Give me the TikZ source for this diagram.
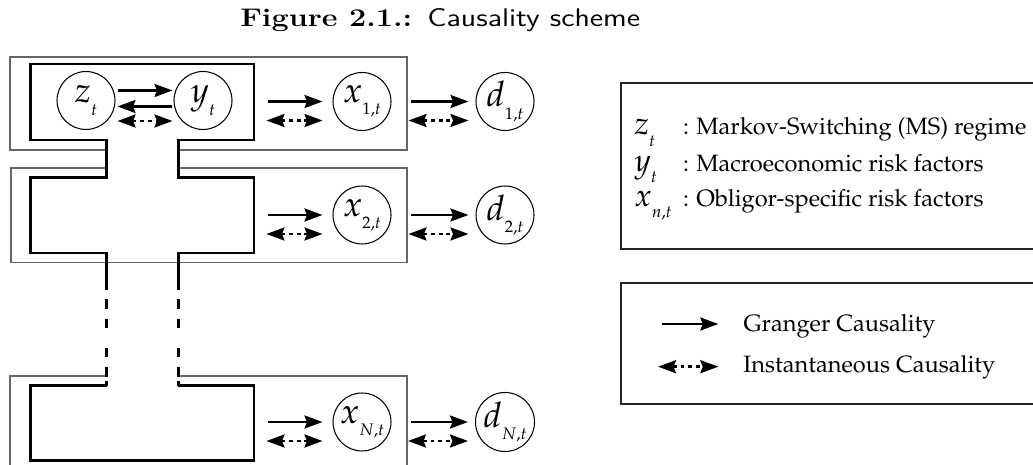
\documentclass[tikz,border=0pt]{standalone}
\usepackage[T1]{fontenc}
\usepackage{mathpazo}
\usepackage{graphicx}
\usepackage{tikz}
\usetikzlibrary{arrows.meta,calc}

% variable with a lowered index
\newcommand{\vsub}[2]{\ensuremath{#1}\raisebox{-0.75ex}{\fontsize{9.5}{10}\selectfont\ensuremath{#2}}}

\begin{document}
\begin{tikzpicture}[x=0.02cm,y=-0.02cm,
  var/.style = {draw, circle, line width=0.6pt, minimum size=1.16cm, inner sep=0pt, font=\fontsize{20}{22}\selectfont},
  frame/.style = {draw=black!60, line width=0.6pt},
  legbox/.style = {draw=black!85, line width=0.6pt},
  block/.style = {line width=1.7pt},
  neck/.style = {line width=1.7pt, dash pattern=on 2.8pt off 2.3pt on 5.7pt off 5.7pt on 5.1pt off 11.4pt on 5.1pt off 5.7pt on 5.7pt off 5.1pt},
  tip/.tip = {Stealth[length=0.36cm, width=0.26cm, inset=0.05cm]},
  granger/.style = {line width=1.3pt, -tip},
  instant/.style = {line width=1.4pt, dash pattern=on 2.2pt off 2.2pt, tip-tip},
  legtxt/.style = {anchor=base west, inner sep=0pt, font=\fontsize{13.45}{16}\selectfont},
  legsym/.style = {anchor=base west, inner sep=0pt, font=\fontsize{18}{20}\selectfont}]
\useasboundingbox (0,0) rectangle (1033,465);

\node[anchor=base west, inner sep=0pt] (title) at (240,27)
  {\scalebox{1.2}[1]{\fontsize{14.5}{17}\usefont{TU}{lmr}{bx}{n}Figure 2.1.: \usefont{TU}{lmss}{m}{n}Causality scheme}};

% thin frames of the obligors
\draw[frame] (106.7,150) -- (10,150) -- (10,57) -- (407,57) -- (407,150) -- (178.3,150);
\draw[frame] (106.7,168) -- (11,168) -- (11,262.7) -- (407,262.7) -- (407,168) -- (178.3,168);
\draw[frame] (10,470) -- (10,376) -- (106.7,376);
\draw[frame] (178.3,376) -- (407,376) -- (407,470);

% thick common block
\draw[block] (106.7,290) -- (106.7,253) -- (30.7,253) -- (30.7,177.3) -- (106.7,177.3) -- (106.7,140)
  -- (30.7,140) -- (30.7,64) -- (254,64) -- (254,140) -- (178.3,140) -- (178.3,177.3)
  -- (254,177.3) -- (254,253) -- (178.3,253) -- (178.3,290);
\draw[block] (178.3,385.7) -- (254,385.7) -- (254,460.7) -- (30.7,460.7) -- (30.7,385.7) -- (106.7,385.7);
\draw[neck] (106.7,385.7) -- (106.7,290);
\draw[neck] (178.3,385.7) -- (178.3,290);

% regime and macro factors
\node[var] (zt) at (86,100.5) {\vsub{z}{t}};
\node[var] (yt) at (203,100.5) {\vsub{y}{t}};
\draw[granger] ($(zt.east)+(2,-10)$) -- ($(yt.west)+(-1,-10)$);
\draw[granger] ($(yt.west)+(-1,6)$) -- ($(zt.east)+(2,6)$);
\draw[instant] ($(zt.east)+(2,20.5)$) -- ($(yt.west)+(-1,20.5)$);

% obligors
\foreach \r/\yy in {1/101.5, 2/215, N/422}{
  \node[var] (x\r) at (362,\yy) {\vsub{x}{\r{,}t}};
  \node[var] (d\r) at (505,\yy) {\vsub{d}{\r{,}t}};
  \draw[granger] ($(x\r.west)+(-64,0)$) -- ($(x\r.west)+(-10,0)$);
  \draw[instant] ($(x\r.west)+(-66,19)$) -- ($(x\r.west)+(-10,19)$);
  \draw[granger] ($(d\r.west)+(-64,0)$) -- ($(d\r.west)+(-7,0)$);
  \draw[instant] ($(d\r.west)+(-67,19)$) -- ($(d\r.west)+(-7,19)$);
}

% legend
\draw[legbox] (621,83) rectangle (1040,249);
\draw[legbox] (621,283) rectangle (1040,404);
\node[legsym] (lz) at (634,135) {\vsub{z}{t}};
\node[legtxt] (lzt) at (682.7,135) {: Markov-Switching (MS) regime};
\node[legsym] (ly) at (634,171.7) {\vsub{y}{t}};
\node[legtxt] (lyt) at (682.7,171.7) {: Macroeconomic risk factors};
\node[legsym] (lx) at (634,206.7) {\vsub{x}{n{,}t}};
\node[legtxt] (lxt) at (682.7,206.7) {: Obligor-specific risk factors};

\node[legtxt] (lg) at (743.3,331.7) {Granger Causality};
\node[legtxt] (li) at (743,373) {Instantaneous Causality};
\coordinate (lgs) at (661.7,324);
\coordinate (lge) at (718.3,324);
\coordinate (lis) at (658,366.7);
\coordinate (lie) at (718.3,366.7);
\draw[granger] (lgs) -- (lge);
\draw[instant] (lis) -- (lie);
\end{tikzpicture}
\end{document}
